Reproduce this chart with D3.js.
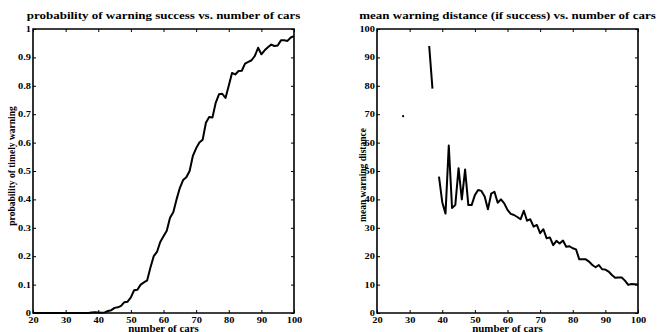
<!DOCTYPE html>
<html><head><meta charset="utf-8">
<script src="https://cdn.jsdelivr.net/npm/d3@7"></script>
<style>
body{margin:0;background:#fff}
svg{display:block}
text{font-family:"Liberation Serif","Times New Roman",serif;font-weight:bold;fill:#000}
</style>
</head><body>
<svg id="c" width="657" height="332"></svg>
<script>
// ---- data ----
const cars = d3.range(20, 101);
const probability = [
  0,0,0,0,0,0,0,0,0,0,            // 20-29
  0,0,0,0,0,0,0,0,0.002,0.003,    // 30-39
  0.002,0.001,0.002,0.007,0.01,0.018,0.02,0.025,0.038,0.04, // 40-49
  0.055,0.08,0.082,0.1,0.108,0.115,0.16,0.2,0.215,0.25,     // 50-59
  0.27,0.29,0.335,0.355,0.4,0.44,0.468,0.478,0.5,0.553,     // 60-69
  0.58,0.6,0.61,0.67,0.69,0.688,0.74,0.77,0.772,0.757,      // 70-79
  0.8,0.845,0.84,0.852,0.853,0.878,0.884,0.89,0.905,0.934,  // 80-89
  0.911,0.925,0.936,0.945,0.94,0.942,0.96,0.96,0.958,0.97,  // 90-99
  0.975                                                      // 100
];
const distance = [
  null,null,null,null,null,null,null,null,69.3,null,   // 20-29
  null,null,null,null,null,null,94,79,null,48,         // 30-39
  39,35,59,37,38,51,40,50.5,38,38,                     // 40-49
  41.5,43.3,43,41,36.5,42,42.7,38.8,40,38.6,           // 50-59
  36.3,34.9,34.5,33.8,33,36,32.5,33,30.4,31,           // 60-69
  28.1,29.5,26.3,26.6,23.9,25.4,24.5,25.5,23.3,23.5,   // 70-79
  22.8,22.4,18.9,18.9,18.9,18.1,16.9,16.1,16.9,15.4,   // 80-89
  15.3,14.6,13.4,12.4,12.5,12.5,11.4,9.9,10.2,10.1,    // 90-99
  10                                                   // 100
];
const xTicks = [20,30,40,50,60,70,80,90,100];
const probTicks = [0,0.1,0.2,0.3,0.4,0.5,0.6,0.7,0.8,0.9,1];
const distTicks = [0,10,20,30,40,50,60,70,80,90,100];
const titles = ["probability of warning success vs. number of cars",
                "mean warning distance (if success) vs. number of cars"];
const xLabel = "number of cars";
const yLabels = ["probability of timely warning", "mean warning distance"];

// ---- layout ----
const svg = d3.select("#c");
const SX = 1.3;      // horizontal stretch of glyphs
const plotTop = 29, plotBottom = 313;

function txt(g, x, y, s, size, sx, anchor, rot) {
  return g.append("text")
    .attr("transform", `translate(${x},${y}) rotate(${rot||0}) scale(${sx},1)`)
    .attr("text-anchor", anchor || "middle")
    .style("font-size", size + "px")
    .text(s);
}

function panel(left, right, yDomain, yTicks, yFmt, values, title, ylab, ylabX, ylabY) {
  const x = d3.scaleLinear().domain([20, 100]).range([left, right]);
  const y = d3.scaleLinear().domain(yDomain).range([plotBottom, plotTop]);
  const g = svg.append("g");

  const styleAxis = (a) => {
    a.select(".domain").remove();
    a.selectAll(".tick line").attr("stroke", "#000").attr("stroke-width", 1);
  };

  const bx = g.append("g").attr("transform", `translate(0,${plotBottom})`)
    .call(d3.axisBottom(x).tickValues(xTicks).tickSize(-3).tickPadding(4).tickFormat(d3.format("d")));
  styleAxis(bx);
  bx.selectAll("text").style("font-size", "8px").style("font-family", null)
    .attr("transform", `scale(${SX},1)`).attr("x", 0);

  const tx = g.append("g").attr("transform", `translate(0,${plotTop})`)
    .call(d3.axisTop(x).tickValues(xTicks).tickSize(-3).tickFormat(""));
  styleAxis(tx);

  const ly = g.append("g").attr("transform", `translate(${left},0)`)
    .call(d3.axisLeft(y).tickValues(yTicks).tickSize(-3).tickPadding(2).tickFormat(yFmt));
  styleAxis(ly);
  ly.selectAll("text").style("font-size", "8px").style("font-family", null)
    .attr("x", null).attr("transform", `translate(-2,0) scale(${SX},1)`);

  const ry = g.append("g").attr("transform", `translate(${right},0)`)
    .call(d3.axisRight(y).tickValues(yTicks).tickSize(-3).tickFormat(""));
  styleAxis(ry);

  // frame
  g.append("path")
    .attr("d", `M${left},${plotTop}H${right}V${plotBottom}H${left}Z`)
    .attr("fill", "none").attr("stroke", "#000").attr("stroke-width", 1.6);

  const pts = cars.map((c, i) => ({c, v: values[i]}));
  const line = d3.line()
    .defined(d => d.v != null)
    .x(d => x(d.c)).y(d => y(d.v));
  g.append("path").datum(pts)
    .attr("d", line)
    .attr("fill", "none").attr("stroke", "#000")
    .attr("stroke-width", 2).attr("stroke-linejoin", "round");

  // isolated points (no defined neighbours)
  const iso = pts.filter((d, i) => d.v != null &&
    (i === 0 || pts[i-1].v == null) && (i === pts.length-1 || pts[i+1].v == null));
  g.selectAll("circle.iso").data(iso).enter().append("circle")
    .attr("cx", d => x(d.c)).attr("cy", d => y(d.v)).attr("r", 1.1).attr("fill", "#000");

  txt(g, (left + right) / 2, 18.5, title, 10, 1.3);
  txt(g, (left + right) / 2, 332, xLabel, 9.5, 1.15);
  txt(g, ylabX, ylabY, ylab, 9.5, 1.0, "middle", -90);
}

panel(33, 294, [0, 1], probTicks, d => d === 0 ? "0" : d === 1 ? "1" : d3.format(".1f")(d),
  probability, titles[0], yLabels[0], 15, 166);
panel(377, 638, [0, 100], distTicks, d3.format("d"),
  distance, titles[1], yLabels[1], 366, 175);
</script>
</body></html>
